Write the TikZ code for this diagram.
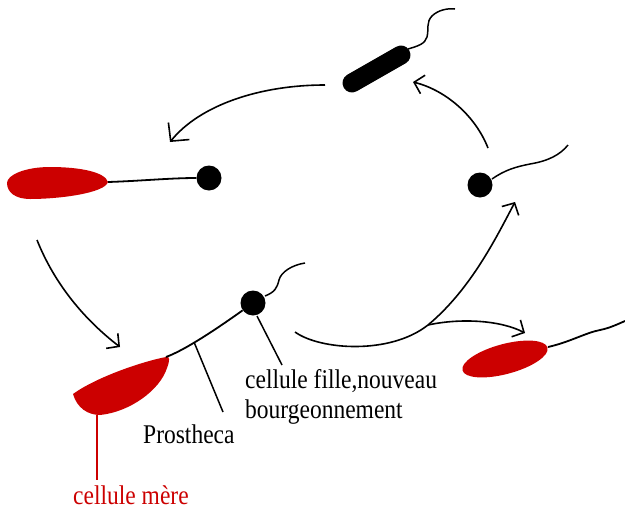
\documentclass[tikz,border=0pt]{standalone}
\usepackage{fontspec}
\setmainfont{Liberation Serif}
\usetikzlibrary{arrows.meta}
\definecolor{cellred}{RGB}{204,0,0}
\begin{document}
\begin{tikzpicture}[x=1pt,y=-1pt,
  flow/.style={line width=1.6pt, -{Straight Barb[length=9pt,width=19pt]}},
  bigflow/.style={line width=1.6pt, -{Straight Barb[length=13pt,width=27pt]}},
  stalk/.style={line width=1.8pt},
  flag/.style={line width=1.5pt},
  tag/.style={line width=1.5pt},
  ball/.style={circle, fill=black, minimum size=25pt, inner sep=0pt},
  lbl/.style={anchor=base west, inner sep=0pt, font=\fontsize{23.5}{28}\selectfont},
]
\useasboundingbox (0,0) rectangle (625,512);

% swimming rod-shaped cell with its flagellum
\draw[line width=19pt, line cap=round] (352,83) -- (401,55);
\draw[flag] (408,49) .. controls (418,46) and (425,44) .. (427,37)
  .. controls (429,29) and (426,22) .. (432,16)
  .. controls (438,10) and (448,8) .. (455,9);

% attached cells and buds
\node[ball] (budL) at (209,178) {};
\node[ball] (budR) at (480,185) {};
\node[ball] (bud) at (253,303) {};

% left stalked cell
\coordinate (tipL) at (108,182);
\fill[cellred] (tipL) .. controls (105,172) and (80,167) .. (50,167)
  .. controls (25,167) and (7,175) .. (7,183)
  .. controls (7,192) and (15,199) .. (30,199)
  .. controls (60,199) and (105,193) .. (tipL);
\draw[stalk] (tipL) .. controls (140,181) and (170,178) .. (budL);

% mother cell with prostheca and bud
\coordinate (tipM) at (166,357);
\fill[cellred] (tipM) .. controls (140,362) and (95,378) .. (73,394)
  .. controls (77,408) and (88,415) .. (100,415)
  .. controls (130,412) and (160,390) .. (167,368)
  .. controls (170,360) and (170,356) .. (tipM);
\draw[stalk] (tipM) .. controls (185,350) and (215,330) .. (bud);
\draw[flag] (265,296) .. controls (275,292) and (277,288) .. (279,280)
  .. controls (281,272) and (292,265) .. (305,263);

% free swarmer bud
\draw[flag] (492,179) .. controls (505,170) and (515,167) .. (530,164)
  .. controls (548,161) and (560,155) .. (568,145);

% new stalked cell at the lower right
\fill[cellred, rotate around={15:(505,359)}] (505,359) ellipse [x radius=44pt, y radius=15pt];
\draw[stalk] (548,347) .. controls (570,342) and (585,333) .. (600,330)
  .. controls (610,328) and (618,324) .. (625,321);

% cycle arrows
\coordinate (a1s) at (325,85);   \coordinate (a1e) at (170,142);
\coordinate (a2s) at (488,148);  \coordinate (a2e) at (413,82);
\coordinate (a3s) at (37,240);   \coordinate (a3e) at (120,347);
\coordinate (a4s) at (295,332);  \coordinate (fork) at (428,325);
\coordinate (a4e) at (515,202);  \coordinate (a5e) at (525,333);
\draw[bigflow] (a1s) .. controls (260,85) and (200,105) .. (a1e);
\draw[flow] (a2s) .. controls (475,115) and (445,90) .. (a2e);
\draw[flow] (a3s) .. controls (55,285) and (85,320) .. (a3e);
\draw[line width=1.6pt] (a4s) .. controls (320,350) and (390,355) .. (fork);
\draw[flow] (fork) .. controls (470,290) and (495,240) .. (a4e);
\draw[flow] (fork) .. controls (460,318) and (500,320) .. (a5e);

% labels
\node[lbl] (prost) at (143,443) {\scalebox{1}[1.15]{Prostheca}};
\node[lbl] (fille) at (245,388) {\scalebox{1}[1.15]{cellule fille,nouveau}};
\node[lbl] (bourg) at (245,418) {\scalebox{1}[1.15]{bourgeonnement}};
\node[lbl, text=cellred] (mere) at (73,504) {\scalebox{1}[1.15]{cellule mère}};
\coordinate (pt1) at (194,342);  \coordinate (pt1e) at (223,412);
\coordinate (pt2) at (257,316);  \coordinate (pt2e) at (282,365);
\draw[tag] (pt1) -- (pt1e);
\draw[tag] (pt2) -- (pt2e);
\coordinate (mtop) at (97,415);  \coordinate (mbot) at (97,480);
\draw[tag, cellred] (mtop) -- (mbot);
\end{tikzpicture}
\end{document}
